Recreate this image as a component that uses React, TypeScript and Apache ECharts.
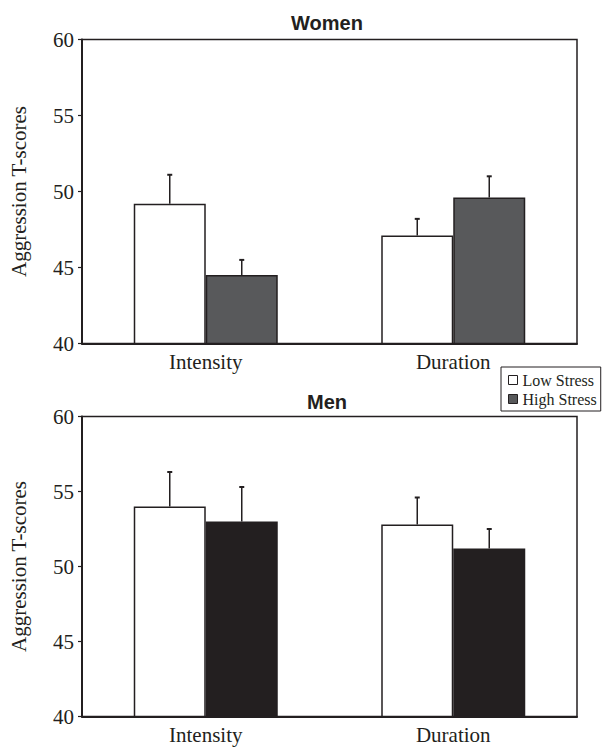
import React, { useEffect, useRef } from "react";
import * as echarts from "echarts";

const categories = ["Intensity", "Duration"];
const seriesNames = ["Low Stress", "High Stress"];
const yTicks = [40, 45, 50, 55, 60];

const womenLow = [49.2, 47.1];
const womenLowErr = [1.9, 1.1];
const womenHigh = [44.5, 49.6];
const womenHighErr = [1.0, 1.4];

const menLow = [54.0, 52.8];
const menLowErr = [2.3, 1.8];
const menHigh = [53.0, 51.2];
const menHighErr = [2.3, 1.3];

const INK = "#231f20";
const SERIF = '"Liberation Serif", "Times New Roman", serif';
const SANS = '"Liberation Sans", Arial, sans-serif';

function errData(vals: number[], errs: number[]) {
  return vals.map((v, i) => [i, v, errs[i]]);
}

function errSeries(gridIdx: number, vals: number[], errs: number[], offset: number) {
  return {
    type: "custom",
    xAxisIndex: gridIdx,
    yAxisIndex: gridIdx,
    z: 5,
    encode: { x: 0, y: 1 },
    data: errData(vals, errs),
    renderItem: (params: any, api: any) => {
      const cat = api.value(0);
      const v = api.value(1);
      const e = api.value(2);
      const base = api.coord([cat, v]);
      const top = api.coord([cat, v + e]);
      const x = base[0] + offset;
      return {
        type: "group",
        children: [
          {
            type: "line",
            shape: { x1: x, y1: base[1], x2: x, y2: top[1] },
            style: { stroke: INK, lineWidth: 1.5 },
          },
          {
            type: "line",
            shape: { x1: x - 2.5, y1: top[1], x2: x + 2.5, y2: top[1] },
            style: { stroke: INK, lineWidth: 2 },
          },
        ],
      };
    },
  };
}

function barSeries(gridIdx: number, name: string, vals: number[], color: string) {
  return {
    type: "bar",
    name,
    xAxisIndex: gridIdx,
    yAxisIndex: gridIdx,
    data: vals,
    barWidth: 72,
    barGap: "0%",
    itemStyle: { color, borderColor: INK, borderWidth: 1.5 },
  };
}

export default function App() {
  const ref = useRef<HTMLDivElement>(null);
  useEffect(() => {
    if (!ref.current) return;
    const chart = echarts.init(ref.current, null, { renderer: "svg" });
    const xAxisBase = {
      type: "category",
      data: categories,
      axisLine: { show: true, lineStyle: { color: INK, width: 2 } },
      axisTick: { show: false },
      axisLabel: { color: INK, fontFamily: SERIF, fontSize: 21, margin: 8 },
      splitLine: { show: false },
    };
    const yAxisBase = {
      type: "value",
      min: 40,
      max: 60,
      interval: 5,
      name: "Aggression T-scores",
      nameLocation: "middle",
      nameGap: 53,
      nameTextStyle: { color: INK, fontFamily: SERIF, fontSize: 21 },
      axisLine: { show: true, lineStyle: { color: INK, width: 2 } },
      axisTick: { show: true, inside: false, length: 4, lineStyle: { color: INK, width: 1.2 } },
      axisLabel: {
        color: INK,
        fontFamily: SERIF,
        fontSize: 21,
        margin: 8,
        formatter: (v: number) => (yTicks.includes(v) ? String(v) : ""),
      },
      splitLine: { show: false },
    };
    chart.setOption({
      animation: false,
      backgroundColor: "#fff",
      grid: [
        { left: 75, right: 26, top: 39.5, height: 304, show: true, borderColor: INK, borderWidth: 1.5, backgroundColor: "transparent" },
        { left: 75, right: 26, top: 416.5, height: 300, show: true, borderColor: INK, borderWidth: 1.5, backgroundColor: "transparent" },
      ],
      xAxis: [
        { ...xAxisBase, gridIndex: 0 },
        { ...xAxisBase, gridIndex: 1 },
      ],
      yAxis: [
        { ...yAxisBase, gridIndex: 0 },
        { ...yAxisBase, gridIndex: 1 },
      ],
      legend: {
        data: seriesNames,
        left: 501,
        top: 367,
        orient: "vertical",
        icon: "rect",
        itemWidth: 9,
        itemHeight: 9,
        itemGap: 3,
        itemTextGap: 2,
        padding: [5, 4, 4, 7],
        borderColor: INK,
        borderWidth: 1,
        backgroundColor: "#fff",
        selectedMode: false,
        itemStyle: { borderColor: INK, borderWidth: 1 },
        textStyle: { color: INK, fontFamily: SERIF, fontSize: 16 },
      },
      graphic: [
        {
          type: "text",
          x: 327,
          y: 22.5,
          style: { text: "Women", font: `bold 20px ${SANS}`, fill: INK, align: "center", verticalAlign: "middle" },
        },
        {
          type: "text",
          x: 327,
          y: 401.5,
          style: { text: "Men", font: `bold 20px ${SANS}`, fill: INK, align: "center", verticalAlign: "middle" },
        },
      ],
      series: [
        barSeries(0, seriesNames[0], womenLow, "#ffffff"),
        barSeries(0, seriesNames[1], womenHigh, "#58595b"),
        barSeries(1, seriesNames[0], menLow, "#ffffff"),
        barSeries(1, seriesNames[1], menHigh, "#231f20"),
        errSeries(0, womenLow, womenLowErr, -36),
        errSeries(0, womenHigh, womenHighErr, 36),
        errSeries(1, menLow, menLowErr, -36),
        errSeries(1, menHigh, menHighErr, 36),
      ],
    });
    return () => chart.dispose();
  }, []);
  return (
    <div
      ref={ref}
      style={{ position: "absolute", left: 0, top: 0, width: 603, height: 748 }}
    />
  );
}
